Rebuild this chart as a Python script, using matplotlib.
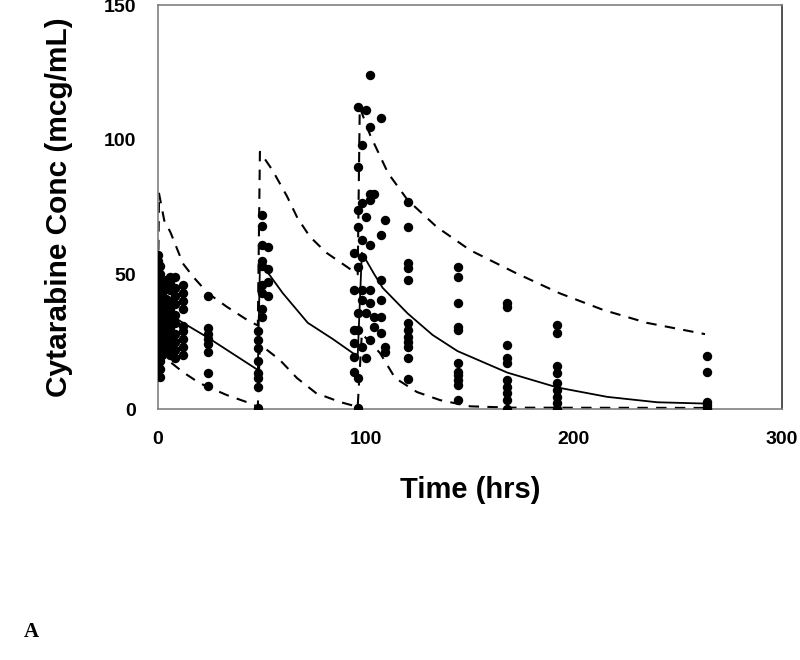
import matplotlib.pyplot as plt

# observed concentrations, grouped by sampling time (hrs)
obs_times = [0, 1, 2, 4, 6, 8, 12, 24,
             48, 50, 53,
             94, 96, 98, 100, 102, 104, 107, 109,
             120, 144, 168, 192, 264]
obs_conc = [
    [14, 16, 20, 24, 27, 30, 33, 36, 40, 44, 48, 52, 55, 57],
    [12, 15, 18, 22, 25, 28, 31, 35, 38, 42, 46, 50, 53],
    [20, 23, 26, 29, 32, 36, 39, 43, 47],
    [22, 25, 28, 31, 34, 38, 41, 45, 48],
    [20, 23, 26, 30, 33, 37, 40, 44, 47, 49],
    [19, 22, 25, 28, 32, 35, 39, 42, 45, 49],
    [20, 23, 26, 29, 31, 37, 40, 43, 46],
    [8.5, 13.5, 21, 24, 26, 28, 30, 42],
    [0.4, 8, 11.5, 13.5, 18, 22.5, 25.5, 29],
    [34, 37, 43, 46, 53, 55, 61, 68, 72],
    [42, 47, 52, 60],
    [57.9, 44.2, 29.3, 24.5, 19.3, 13.7],
    [112, 90, 73.9, 67.6, 52.7, 35.6, 29.3, 11.5, 0.4],
    [98, 76.5, 62.8, 56.4, 44.2, 40.5, 23],
    [111, 71.3, 35.6, 18.9],
    [124, 104.7, 80, 77.6, 60.9, 44.2, 39.4, 25.6],
    [80, 34.2, 30.4],
    [108, 64.6, 47.9, 40.5, 34.2, 28.2],
    [70.2, 23, 21.2],
    [76.9, 67.6, 54.2, 52.4, 47.9, 31.9, 29.3, 26.7, 24.9, 23, 18.9, 11.1],
    [52.7, 49, 39.4, 30.4, 29.3, 17.1, 13.7, 12.6, 10.8, 8.9, 3.3],
    [39.4, 38, 23.8, 18.9, 17.1, 10.8, 8.2, 5.9, 3.3, 0],
    [31.2, 28.2, 16, 13.4, 9.7, 7, 4.5, 2.2, 0],
    [19.7, 13.7, 2.6, 1.5, 0.4],
]

# model predictions: median and 5th / 95th percentiles
med_t = [0, 1, 6, 12, 24, 36, 48, 49, 52, 60, 72, 84, 96,
         98, 104, 108, 120, 132, 144, 168, 192, 216, 240, 264]
med_c = [42, 38, 35, 32, 26.5, 20.5, 14.5, 53, 51.5, 43, 32, 26, 19.5,
         58, 50, 45, 35.5, 27.5, 21.5, 13.5, 8, 4.5, 2.5, 2]

hi_t = [0, 0.5, 3, 6, 12, 17, 24, 33, 43, 48, 49, 55, 62, 67, 73, 81, 91, 96,
        97, 102, 110.6, 120, 134, 150, 172, 193, 214, 235, 263]
hi_c = [45, 80, 70, 65.6, 54, 49, 43, 38, 33, 31, 95.5, 88.7, 79, 71, 64, 58, 52.7, 50,
        112, 101.7, 87.6, 77.6, 67.6, 59, 50.5, 43, 36.8, 32, 27.8]

lo_t = [0, 3.4, 12, 20, 33, 44, 48, 49, 58.6, 66.8, 76, 87.5, 96,
        98, 106.7, 114, 124.5, 135.6, 150, 170, 264]
lo_c = [22, 19, 13.7, 9.6, 5.2, 2.2, 0.8, 24, 18.2, 11.5, 5.9, 2.6, 0.8,
        28, 20.8, 11.5, 6.3, 3.3, 1, 0.5, 0.4]

fig = plt.figure(figsize=(8, 6.6), dpi=100)
ax = fig.add_axes([0.1975, 0.3803, 0.78, 0.6121])

for t, vals in zip(obs_times, obs_conc):
    ax.scatter([t] * len(vals), vals, s=46, color='black', zorder=3, linewidths=0)

ax.plot(med_t, med_c, color='black', lw=1.3, zorder=2)
ax.plot(hi_t, hi_c, color='black', lw=1.5, dashes=(5, 4), zorder=2)
ax.plot(lo_t, lo_c, color='black', lw=1.5, dashes=(5, 4), zorder=2)

ax.set_xlim(0, 300)
ax.set_ylim(0, 150)
ax.set_xticks([0, 100, 200, 300])
ax.set_yticks([0, 50, 100, 150])
ax.tick_params(length=0, pad=16, labelsize=14)
for lab in ax.get_xticklabels() + ax.get_yticklabels():
    lab.set_fontweight('bold')
    lab.set_family('Liberation Sans')
for s in ax.spines.values():
    s.set_color('#808080')
    s.set_linewidth(1.2)
ax.spines['right'].set_color('#333333')

ax.set_xlabel('Time (hrs)', fontsize=21, fontweight='bold', family='Liberation Sans', labelpad=20)
ax.set_ylabel('Cytarabine Conc (mcg/mL)', fontsize=21.5, fontweight='bold', family='Liberation Sans', labelpad=22)

fig.text(0.03, 0.035, 'A', fontsize=15, fontweight='bold', family='Liberation Serif', ha='left', va='baseline')

fig.savefig('out.png', dpi=100)
